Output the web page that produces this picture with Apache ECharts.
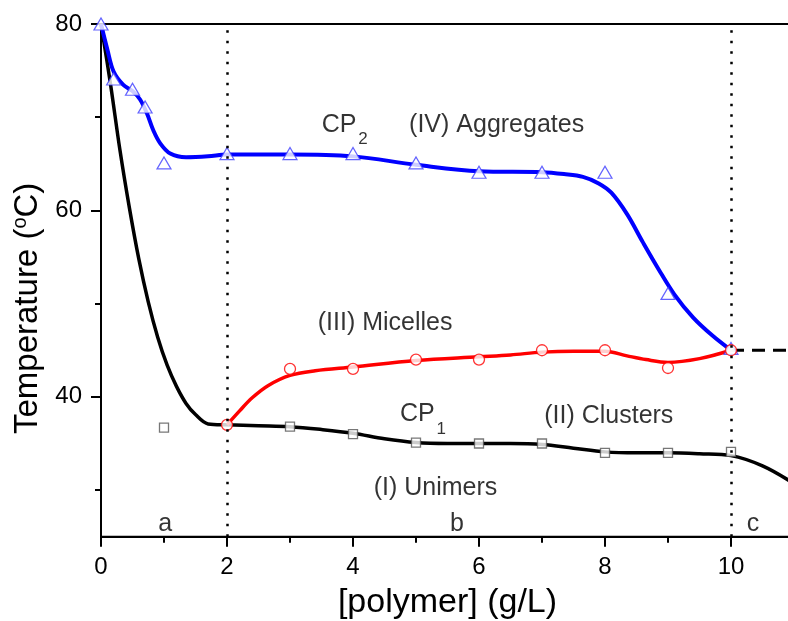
<!DOCTYPE html>
<html><head><meta charset="utf-8">
<script src="https://cdn.jsdelivr.net/npm/echarts@6/dist/echarts.min.js"></script>
<style>html,body{margin:0;padding:0;background:#fff}#c{width:788px;height:621px}</style>
</head><body><div id="c"></div>
<script>
// ---- tick values ----
const xMajorTicks = [0, 2, 4, 6, 8, 10];
const xMinorTicks = [1, 3, 5, 7, 9, 11];
const yMajorTicks = [40, 60, 80];
const yMinorTicks = [30, 50, 70];

// ---- CP1 fitted curve (black) ----
const cp1FitX = [0, 0.15, 0.3, 0.45, 0.6, 0.75, 0.9, 1.05, 1.2, 1.35, 1.5, 1.7, 2, 2.5, 3, 3.5, 4, 4.5, 5, 5.5, 6, 6.5, 7, 7.5, 8, 8.5, 9, 9.5, 10, 10.5, 11];
const cp1FitY = [80, 73.6, 66.5, 60.3, 54.8, 50.2, 46.4, 43.4, 41.1, 39.3, 38.1, 37.1, 37.0, 36.9, 36.8, 36.5, 36.1, 35.5, 35.1, 35.0, 35.0, 35.0, 34.9, 34.5, 34.1, 34.0, 34.0, 33.9, 33.7, 32.6, 30.7];
// ---- CP1 measured points (squares) ----
const cp1PtsX = [1, 3, 4, 5, 6, 7, 8, 9, 10];
const cp1PtsY = [36.7, 36.8, 36.0, 35.1, 35.0, 35.0, 34.0, 34.0, 34.1];

// ---- CP2 fitted curve (blue) ----
const cp2FitX = [0, 0.1, 0.2, 0.35, 0.5, 0.62, 0.73, 0.83, 0.94, 1.1, 1.35, 1.7, 2, 3, 4, 5, 6, 7, 7.35, 7.65, 7.9, 8.1, 8.35, 8.6, 8.85, 9.1, 9.4, 9.7, 10];
const cp2FitY = [80, 77.3, 74.9, 73.5, 72.8, 71.9, 70.4, 68.6, 67.2, 66.1, 65.7, 65.8, 66.0, 66.0, 65.8, 64.9, 64.2, 64.1, 63.9, 63.6, 62.9, 61.9, 59.6, 56.6, 53.7, 51.0, 48.5, 46.6, 45.0];
// ---- CP2 measured points (triangles) ----
const cp2PtsX = [0, 0.2, 0.5, 0.7, 1, 2, 3, 4, 5, 6, 7, 8, 9, 10];
const cp2PtsY = [80, 74.1, 73.0, 71.1, 65.1, 66.1, 66.1, 66.1, 65.1, 64.1, 64.1, 64.1, 51.1, 45.2];

// ---- Micelle boundary fitted curve (red) ----
const micFitX = [2, 2.2, 2.4, 2.65, 3, 3.4, 4, 5, 6, 6.5, 7, 7.5, 8, 8.35, 8.65, 9, 9.5, 10];
const micFitY = [37, 38.5, 39.9, 41.2, 42.3, 42.8, 43.2, 43.9, 44.3, 44.5, 44.8, 44.9, 44.9, 44.4, 44.0, 43.7, 44.1, 45.0];
// ---- Micelle measured points (circles) ----
const micPtsX = [2, 3, 4, 5, 6, 7, 8, 9, 10];
const micPtsY = [37.0, 43.0, 43.0, 44.0, 44.0, 45.0, 45.0, 43.1, 45.0];

// ---- dashed extension and boundary lines ----
const dashX = [10, 11];
const dashY = [45, 45];
const boundaryX = [2, 10];

// ---- annotations (text, x, y in data units) ----
const annotText = ['CP', '2', '(IV) Aggregates', '(III) Micelles', 'CP', '1', '(II) Clusters', '(I) Unimers', 'a', 'b', 'c'];
const annotX = [3.78, 4.16, 6.28, 4.51, 5.02, 5.40, 8.06, 5.31, 1.02, 5.65, 10.35];
const annotY = [69.2, 67.6, 69.2, 47.9, 38.16, 36.5, 37.9, 30.23, 26.4, 26.4, 26.4];
const annotIsSub = [false, true, false, false, false, true, false, false, false, false, false];

const zip = (xs, ys) => xs.map((x, i) => [x, ys[i]]);
const FONT = "'Liberation Sans', Arial, sans-serif";

const chart = echarts.init(document.getElementById('c'), null, {renderer: 'canvas'});
const baseX = {
  type: 'value', min: 0, max: 11, gridIndex: 0,
  splitLine: {show: false}
};
const baseY = {
  type: 'value', min: 25, max: 80, gridIndex: 0,
  splitLine: {show: false}
};
chart.setOption({
  animation: false,
  backgroundColor: '#fff',
  grid: {left: 101, right: -6, top: 24, bottom: 84.3, containLabel: false, outerBoundsMode: 'none',
    show: true, borderColor: '#000', borderWidth: 2, backgroundColor: 'transparent'},
  xAxis: [
    Object.assign({}, baseX, {
      position: 'bottom',
      axisLine: {show: true, lineStyle: {color: '#000', width: 2}},
      axisTick: {show: true, inside: false, length: 10, lineStyle: {color: '#000', width: 2}, customValues: xMajorTicks},
      axisLabel: {show: true, customValues: xMajorTicks, fontSize: 24, color: '#000', fontFamily: FONT, margin: 19},
      name: '[polymer] (g/L)', nameLocation: 'middle', nameGap: 49,
      nameTextStyle: {fontSize: 34, color: '#000', fontFamily: FONT}
    }),
    Object.assign({}, baseX, {
      position: 'bottom',
      axisLine: {show: false},
      axisTick: {show: true, inside: false, length: 6, lineStyle: {color: '#000', width: 2}, customValues: xMinorTicks},
      axisLabel: {show: false}
    })
  ],
  yAxis: [
    Object.assign({}, baseY, {
      position: 'left',
      axisLine: {show: true, lineStyle: {color: '#000', width: 2}},
      axisTick: {show: true, inside: false, length: 10, lineStyle: {color: '#000', width: 2}, customValues: yMajorTicks},
      axisLabel: {show: true, customValues: yMajorTicks, fontSize: 24, color: '#000', fontFamily: FONT, margin: 19},
      name: 'Temperature ({s|o}C)', nameLocation: 'middle', nameGap: 45,
      nameTextStyle: {fontSize: 33, color: '#000', fontFamily: FONT, padding: [0, 56, 0, 0],
        rich: {s: {fontSize: 20, color: '#000', fontFamily: FONT, padding: [0, 0, 14, 0]}}}
    }),
    Object.assign({}, baseY, {
      position: 'left',
      axisLine: {show: false},
      axisTick: {show: true, inside: false, length: 6, lineStyle: {color: '#000', width: 2}, customValues: yMinorTicks},
      axisLabel: {show: false}
    })
  ],
  series: [
    {
      name: 'boundaries', type: 'line', data: zip(dashX, dashY), symbol: 'none',
      lineStyle: {color: '#000', width: 3, type: [13, 8]}, z: 1,
      markLine: {
        silent: true, symbol: ['none', 'none'], label: {show: false},
        lineStyle: {color: '#000', width: 2.5, type: [2.5, 8]},
        data: boundaryX.map(v => ({xAxis: v}))
      }
    },
    {name: 'CP1 fit', type: 'line', data: zip(cp1FitX, cp1FitY), smooth: 0.35, symbol: 'none',
      lineStyle: {color: '#000', width: 3.5}, z: 2},
    {name: 'CP2 fit', type: 'line', data: zip(cp2FitX, cp2FitY), smooth: 0.35, symbol: 'none',
      lineStyle: {color: '#0000ff', width: 4}, z: 2},
    {name: 'Micelle fit', type: 'line', data: zip(micFitX, micFitY), smooth: 0.35, symbol: 'none',
      lineStyle: {color: '#ff0000', width: 3.5}, z: 2},
    {name: 'CP1', type: 'scatter', data: zip(cp1PtsX, cp1PtsY), symbol: 'rect', symbolSize: 9,
      itemStyle: {color: '#fff', borderColor: '#555', borderWidth: 1.3}, z: 3},
    {name: 'CP2', type: 'scatter', data: zip(cp2PtsX, cp2PtsY), symbol: 'triangle', symbolSize: [14, 12],
      itemStyle: {color: '#fff', borderColor: '#3c3cff', borderWidth: 1.2}, z: 3},
    {name: 'Micelle', type: 'scatter', data: zip(micPtsX, micPtsY), symbol: 'circle', symbolSize: 11,
      itemStyle: {color: '#fff', borderColor: '#ff0000', borderWidth: 1.3}, z: 4},
    {name: 'labels', type: 'scatter', symbolSize: 0, silent: true, z: 5,
      itemStyle: {color: 'transparent'},
      data: annotText.map((t, i) => ({
        value: [annotX[i], annotY[i]], name: t,
        label: {fontSize: annotIsSub[i] ? 17 : 25}
      })),
      label: {show: true, position: 'inside', formatter: '{b}', color: '#000', fontFamily: FONT, fontSize: 25,
        textBorderWidth: 0, textBorderColor: 'transparent'}
    }
  ]
});
</script></body></html>
